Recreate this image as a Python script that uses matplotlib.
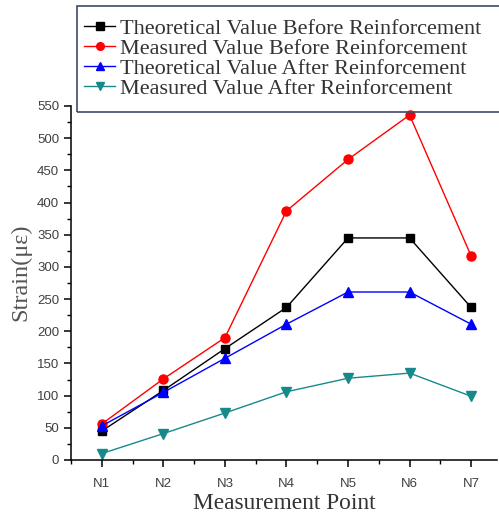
import matplotlib
matplotlib.use("Agg")
import matplotlib.pyplot as plt
from matplotlib.patches import Rectangle
from matplotlib.ticker import MultipleLocator

# data
points = ['N1', 'N2', 'N3', 'N4', 'N5', 'N6', 'N7']
theo_before = [45, 108, 173, 237, 345, 345, 237]
meas_before = [56, 126, 190, 387, 467, 536, 317]
theo_after = [53, 105, 158, 211, 261, 261, 211]
meas_after = [10, 41, 73, 106, 127, 135, 99]

labels = ['Theoretical Value Before Reinforcement',
          'Measured Value Before Reinforcement',
          'Theoretical Value After Reinforcement',
          'Measured Value After Reinforcement']

W, H = 499, 519
fig = plt.figure(figsize=(W / 100, H / 100), dpi=100)
ax = fig.add_axes([71 / W, 1 - 460 / H, (497 - 71) / W, (460 - 106) / H])

x = list(range(1, len(points) + 1))
ax.plot(x, theo_before, color='black', marker='s', ms=6, lw=1, label=labels[0])
ax.plot(x, meas_before, color='#ff0000', marker='o', ms=6.5, lw=1, label=labels[1])
ax.plot(x, theo_after, color='#0000ff', marker='^', ms=7, lw=1, label=labels[2])
ax.plot(x, meas_after, color='#168a8a', marker='v', ms=7, lw=1, label=labels[3])

ax.set_xlim(0.5, 7.42)
ax.set_ylim(0, 550)
ax.set_xticks(x)
ax.set_xticklabels(points)
ax.xaxis.set_minor_locator(MultipleLocator(0.5))
ax.yaxis.set_major_locator(MultipleLocator(50))
ax.yaxis.set_minor_locator(MultipleLocator(25))

for s in ['top', 'right']:
    ax.spines[s].set_visible(False)
for s in ['left', 'bottom']:
    ax.spines[s].set_linewidth(1.1)

ax.tick_params(which='major', direction='out', length=5, width=1.1,
               labelsize=9.5, labelcolor='#404040')
ax.tick_params(which='minor', direction='out', length=3, width=1)
for t in ax.get_xticklabels() + ax.get_yticklabels():
    t.set_family('Liberation Sans')
ax.tick_params(axis='x', pad=8)

ax.set_xlabel('Measurement Point', family='Liberation Serif', fontsize=16.8,
              color='#333333', labelpad=2)
ax.set_ylabel('Strain(\u03bc\u03b5)', family='Liberation Serif', fontsize=17.5,
              color='#555555')
ax.yaxis.set_label_coords(-0.092, 0.53)

# legend box sticks out of the right edge like in the original
fig.patches.append(Rectangle((77 / W, 1 - 112 / H), (520 - 77) / W, 106 / H,
                             transform=fig.transFigure, fill=False,
                             edgecolor='#3d4c6b', lw=1.2, zorder=5))
leg = fig.legend(loc='upper left', bbox_to_anchor=(84 / W, 1 - 18 / H),
                 frameon=False, borderaxespad=0, borderpad=0,
                 handlelength=1.4, handletextpad=0.2, labelspacing=-0.02,
                 markerscale=0.85,
                 prop={'family': 'Liberation Serif', 'size': 16})
for t in leg.get_texts():
    t.set_color('#333333')

fig.savefig('out.png', dpi=100)
